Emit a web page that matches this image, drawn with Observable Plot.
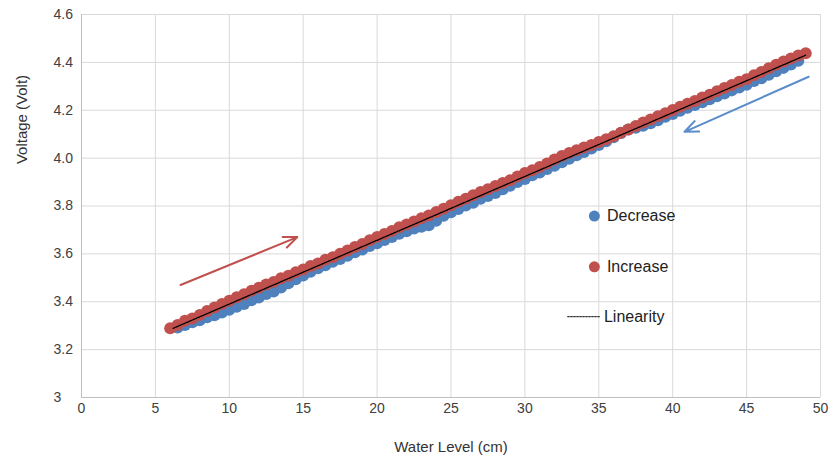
<!DOCTYPE html>
<html>
<head>
<meta charset="utf-8">
<script src="https://cdn.jsdelivr.net/npm/d3@7"></script>
<script src="https://cdn.jsdelivr.net/npm/@observablehq/plot@0.6"></script>
<style>
  html, body { margin: 0; padding: 0; background: #fff; }
  #chart { width: 830px; height: 463px; }
</style>
</head>
<body>
<div id="chart"></div>
<script>
// ---- Data ----
const xTicks = [0, 5, 10, 15, 20, 25, 30, 35, 40, 45, 50];
const xTickLabels = ["0", "5", "10", "15", "20", "25", "30", "35", "40", "45", "50"];
const yTicks = [3, 3.2, 3.4, 3.6, 3.8, 4.0, 4.2, 4.4, 4.6];
const yTickLabels = ["3", "3.2", "3.4", "3.6", "3.8", "4.0", "4.2", "4.4", "4.6"];

const xIncrease = [6, 6.5, 7, 7.5, 8, 8.5, 9, 9.5, 10, 10.5, 11, 11.5, 12, 12.5, 13, 13.5, 14, 14.5, 15, 15.5, 16, 16.5, 17, 17.5, 18, 18.5, 19, 19.5, 20, 20.5, 21, 21.5, 22, 22.5, 23, 23.5, 24, 24.5, 25, 25.5, 26, 26.5, 27, 27.5, 28, 28.5, 29, 29.5, 30, 30.5, 31, 31.5, 32, 32.5, 33, 33.5, 34, 34.5, 35, 35.5, 36, 36.5, 37, 37.5, 38, 38.5, 39, 39.5, 40, 40.5, 41, 41.5, 42, 42.5, 43, 43.5, 44, 44.5, 45, 45.5, 46, 46.5, 47, 47.5, 48, 48.5, 49];
const yIncrease = [3.289, 3.303, 3.321, 3.330, 3.345, 3.361, 3.376, 3.391, 3.404, 3.419, 3.431, 3.446, 3.458, 3.472, 3.483, 3.498, 3.509, 3.523, 3.535, 3.549, 3.560, 3.575, 3.586, 3.601, 3.614, 3.629, 3.641, 3.657, 3.671, 3.683, 3.696, 3.711, 3.723, 3.735, 3.749, 3.760, 3.775, 3.789, 3.803, 3.818, 3.830, 3.845, 3.858, 3.870, 3.884, 3.896, 3.908, 3.923, 3.938, 3.949, 3.963, 3.978, 3.994, 4.009, 4.021, 4.033, 4.044, 4.055, 4.067, 4.079, 4.091, 4.106, 4.120, 4.134, 4.149, 4.161, 4.175, 4.187, 4.201, 4.215, 4.227, 4.239, 4.253, 4.265, 4.279, 4.293, 4.305, 4.319, 4.330, 4.346, 4.360, 4.375, 4.390, 4.404, 4.416, 4.429, 4.438];

const xDecrease = [6.5, 7, 7.5, 8, 8.5, 9, 9.5, 10, 10.5, 11, 11.5, 12, 12.5, 13, 13.5, 14, 14.5, 15, 15.5, 16, 16.5, 17, 17.5, 18, 18.5, 19, 19.5, 20, 20.5, 21, 21.5, 22, 22.5, 23, 23.5, 24, 24.5, 25, 25.5, 26, 26.5, 27, 27.5, 28, 28.5, 29, 29.5, 30, 30.5, 31, 31.5, 32, 32.5, 33, 33.5, 34, 34.5, 35, 35.5, 36, 36.5, 37, 37.5, 38, 38.5, 39, 39.5, 40, 40.5, 41, 41.5, 42, 42.5, 43, 43.5, 44, 44.5, 45, 45.5, 46, 46.5, 47, 47.5, 48, 48.5];
const yDecrease = [3.292, 3.303, 3.314, 3.323, 3.335, 3.344, 3.355, 3.367, 3.379, 3.391, 3.406, 3.418, 3.432, 3.443, 3.460, 3.477, 3.494, 3.510, 3.525, 3.540, 3.552, 3.567, 3.579, 3.592, 3.607, 3.618, 3.633, 3.644, 3.658, 3.670, 3.684, 3.695, 3.706, 3.713, 3.720, 3.738, 3.759, 3.774, 3.787, 3.802, 3.814, 3.830, 3.842, 3.854, 3.870, 3.885, 3.900, 3.913, 3.928, 3.940, 3.955, 3.968, 3.983, 3.997, 4.012, 4.026, 4.040, 4.055, 4.070, 4.087, 4.105, 4.120, 4.127, 4.135, 4.146, 4.158, 4.173, 4.184, 4.198, 4.210, 4.222, 4.233, 4.246, 4.258, 4.270, 4.283, 4.295, 4.307, 4.322, 4.334, 4.348, 4.363, 4.377, 4.391, 4.407];

const xLinearity = [6.2, 49];
const yLinearity = [3.289, 4.430];

const seriesNames = ["Decrease", "Increase", "Linearity"];
const seriesColors = ["#4F81BD", "#C0504D", "#000000"];

// annotation arrows (data coordinates): x1, y1, x2, y2
const arrowRed = [6.7, 3.47, 14.6, 3.67];
const arrowBlue = [49.2, 4.34, 40.8, 4.11];

// legend anchor positions (data coordinates)
const legendDotX = 34.7;
const legendTextX = 35.55;
const legendY = [3.758, 3.546, 3.3375];
const legendLineX = [32.9, 35.1];

// ---- Build tables ----
const inc = xIncrease.map((x, i) => ({x, y: yIncrease[i]}));
const dec = xDecrease.map((x, i) => ({x, y: yDecrease[i]}));
const fit = xLinearity.map((x, i) => ({x, y: yLinearity[i]}));
const legendDots = [
  {x: legendDotX, y: legendY[0], c: seriesColors[0]},
  {x: legendDotX, y: legendY[1], c: seriesColors[1]}
];
const legendTexts = seriesNames.map((name, i) => ({x: i === 2 ? legendTextX - 0.2 : legendTextX, y: legendY[i], name}));
const legendLine = legendLineX.map(x => ({x, y: legendY[2]}));
const arrows = [
  {x1: arrowRed[0], y1: arrowRed[1], x2: arrowRed[2], y2: arrowRed[3], c: seriesColors[1]},
  {x1: arrowBlue[0], y1: arrowBlue[1], x2: arrowBlue[2], y2: arrowBlue[3], c: "#5B8DCB"}
];

const chart = Plot.plot({
  width: 830,
  height: 463,
  marginLeft: 81,
  marginRight: 10,
  marginTop: 14,
  marginBottom: 66,
  style: {fontFamily: "'Liberation Sans', Arial, sans-serif", fontSize: "14px", color: "#404040", background: "#fff"},
  x: {domain: [0, 50]},
  y: {domain: [3, 4.6]},
  marks: [
    Plot.gridX(xTicks, {stroke: "#d9d9d9", strokeOpacity: 1, strokeWidth: 1}),
    Plot.gridY(yTicks, {stroke: "#d9d9d9", strokeOpacity: 1, strokeWidth: 1}),
    Plot.ruleX([0], {stroke: "#bfbfbf"}),
    Plot.ruleY([3], {stroke: "#bfbfbf"}),
    Plot.axisX(xTicks, {tickSize: 0, tickPadding: 6, label: null, fontSize: 14,
      tickFormat: d => xTickLabels[xTicks.indexOf(d)]}),
    Plot.axisY(yTicks, {tickSize: 0, tickPadding: 28, textAnchor: "start", label: null, fontSize: 14,
      tickFormat: d => yTickLabels[yTicks.indexOf(d)]}),
    Plot.text(["Water Level (cm)"], {frameAnchor: "bottom", dy: 54, fontSize: 15, fill: "#333", text: d => d}),
    Plot.text(["Voltage (Volt)"], {frameAnchor: "left", y: () => 3.975, dx: -59, rotate: -90, fontSize: 15, fill: "#333", text: d => d}),
    Plot.dot(dec, {x: "x", y: "y", r: 6, fill: seriesColors[0], stroke: "none"}),
    Plot.dot(inc, {x: "x", y: "y", r: 6, fill: seriesColors[1], stroke: "none"}),
    Plot.line(fit, {x: "x", y: "y", stroke: seriesColors[2], strokeWidth: 1.3, strokeDasharray: "2,1"}),
    Plot.arrow(arrows, {x1: "x1", y1: "y1", x2: "x2", y2: "y2", stroke: "c", strokeWidth: 2, headLength: 11, headAngle: 45}),
    Plot.dot(legendDots, {x: "x", y: "y", r: 5.5, fill: "c", stroke: "none"}),
    Plot.line(legendLine, {x: "x", y: "y", stroke: "#333", strokeWidth: 1.3, strokeDasharray: "1.5,1.5"}),
    Plot.text(legendTexts, {x: "x", y: "y", text: "name", textAnchor: "start", fontSize: 16, fill: "#222"})
  ]
});
document.getElementById("chart").appendChild(chart);
</script>
</body>
</html>
